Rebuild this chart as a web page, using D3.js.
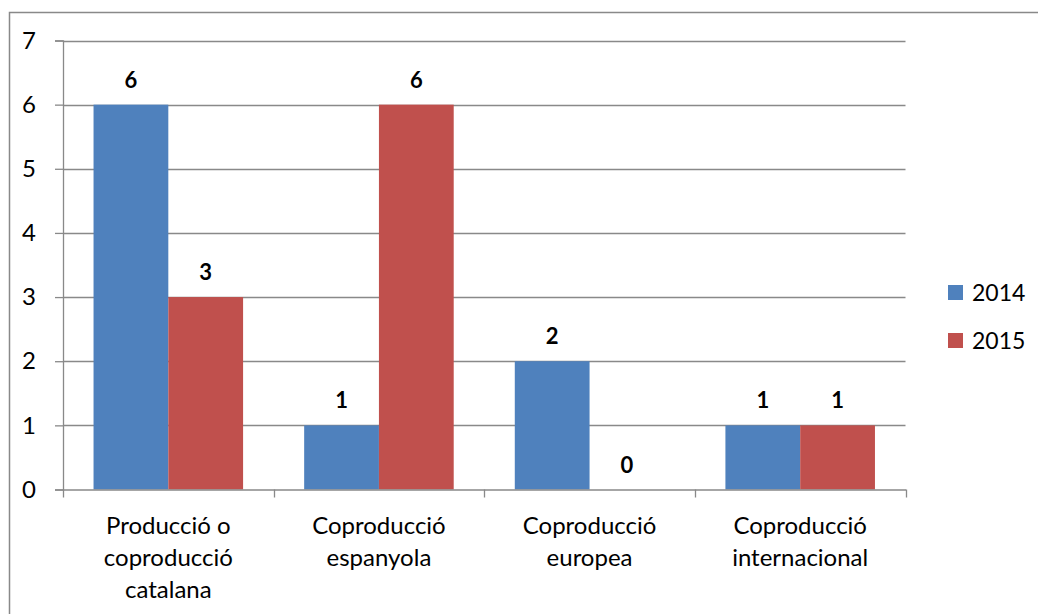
<!DOCTYPE html>
<html>
<head>
<meta charset="utf-8">
<script src="https://cdn.jsdelivr.net/npm/d3@7"></script>
<style>
  html, body { margin: 0; padding: 0; background: #fff; overflow: hidden; }
  svg { display: block; }
  text { font-family: Lato, "Open Sans", sans-serif; fill: #000; }
</style>
</head>
<body>
<svg id="chart" width="1038" height="614"></svg>
<script>
const categories = [
  ["Producció o", "coproducció", "catalana"],
  ["Coproducció", "espanyola"],
  ["Coproducció", "europea"],
  ["Coproducció", "internacional"]
];
const seriesNames = ["2014", "2015"];
const values2014 = [6, 1, 2, 1];
const values2015 = [3, 6, 0, 1];
const yTicks = [0, 1, 2, 3, 4, 5, 6, 7];
const colors = ["#4F81BD", "#C0504D"];

const svg = d3.select("#chart");
const plot = { left: 63, right: 905.5, top: 40.5, bottom: 489.5 };

// chart frame (extends beyond window on right and bottom)
svg.append("rect")
  .attr("x", 9.5).attr("y", 12.5)
  .attr("width", 1100).attr("height", 700)
  .attr("fill", "#fff").attr("stroke", "#898989").attr("stroke-width", 1.5);

const catKeys = categories.map((d, i) => i);
const x = d3.scaleBand().domain(catKeys).range([plot.left, plot.right]).paddingInner(0).paddingOuter(0);
const y = d3.scaleLinear().domain([0, 7]).range([plot.bottom, plot.top]);

const innerPad = 0.145; // fraction of band each side
const x1 = d3.scaleBand().domain(seriesNames)
  .range([x.bandwidth() * innerPad, x.bandwidth() * (1 - innerPad)]);

// gridlines
svg.append("g").selectAll("line").data(yTicks.filter(t => t > 0)).join("line")
  .attr("x1", plot.left).attr("x2", plot.right)
  .attr("y1", d => Math.round(y(d)) + 0.5).attr("y2", d => Math.round(y(d)) + 0.5)
  .attr("stroke", "#898989").attr("stroke-width", 1.3);

// y axis
const yAxis = d3.axisLeft(y).tickValues(yTicks).tickSize(8).tickPadding(10).tickFormat(d3.format("d"));
const gy = svg.append("g").attr("transform", `translate(${plot.left},0)`).call(yAxis);
gy.select(".domain").attr("stroke", "#898989").attr("stroke-width", 1.3);
gy.selectAll(".tick line").attr("stroke", "#898989").attr("stroke-width", 1.3);
gy.selectAll(".tick text").style("font-size", "24px").style("font-family", "Lato, sans-serif").attr("fill", "#000").attr("x", -27);

// bars
const series = [values2014, values2015];
const groups = svg.append("g").selectAll("g").data(seriesNames).join("g")
  .attr("fill", (d, i) => colors[i]);
groups.selectAll("rect").data((s, si) => series[si].map((v, ci) => ({ s, v, ci })))
  .join("rect")
  .attr("x", d => x(d.ci) + x1(d.s))
  .attr("width", x1.bandwidth())
  .attr("y", d => y(d.v))
  .attr("height", d => y(0) - y(d.v));

// x axis
const xAxis = d3.axisBottom(x).tickSize(0).tickFormat("");
const gx = svg.append("g").attr("transform", `translate(0,${plot.bottom})`).call(xAxis);
gx.select(".domain").attr("stroke", "#898989").attr("stroke-width", 1.3);
// tick marks at category boundaries
const bounds = catKeys.map(k => x(k)).concat([plot.right]);
gx.append("g").selectAll("line").data(bounds).join("line")
  .attr("x1", d => Math.round(d) + 0.5).attr("x2", d => Math.round(d) + 0.5)
  .attr("y1", 0).attr("y2", 8)
  .attr("stroke", "#898989").attr("stroke-width", 1.3);

// category labels
const catLabels = svg.append("g").selectAll("text").data(categories).join("text")
  .attr("text-anchor", "middle")
  .style("font-size", "24px")
  .attr("x", (d, i) => x(i) + x.bandwidth() / 2)
  .attr("y", 534);
catLabels.selectAll("tspan").data(d => d).join("tspan")
  .attr("x", function () { return d3.select(this.parentNode).attr("x"); })
  .attr("dy", (d, i) => i === 0 ? 0 : 32)
  .text(d => d);

// data labels
groups.selectAll("text").data((s, si) => series[si].map((v, ci) => ({ s, v, ci })))
  .join("text")
  .attr("text-anchor", "middle")
  .style("font-size", "22px").style("font-weight", "bold")
  .attr("fill", "#000")
  .attr("x", d => x(d.ci) + x1(d.s) + x1.bandwidth() / 2)
  .attr("y", d => y(d.v) - 17)
  .text(d => d.v);

// legend
const legend = svg.append("g").selectAll("g").data(seriesNames).join("g")
  .attr("transform", (d, i) => `translate(948,${285 + i * 48})`);
legend.append("rect").attr("width", 15).attr("height", 15).attr("fill", (d, i) => colors[i]);
legend.append("text").attr("x", 24).attr("y", 16).style("font-size", "23px").text(d => d);
</script>
</body>
</html>
